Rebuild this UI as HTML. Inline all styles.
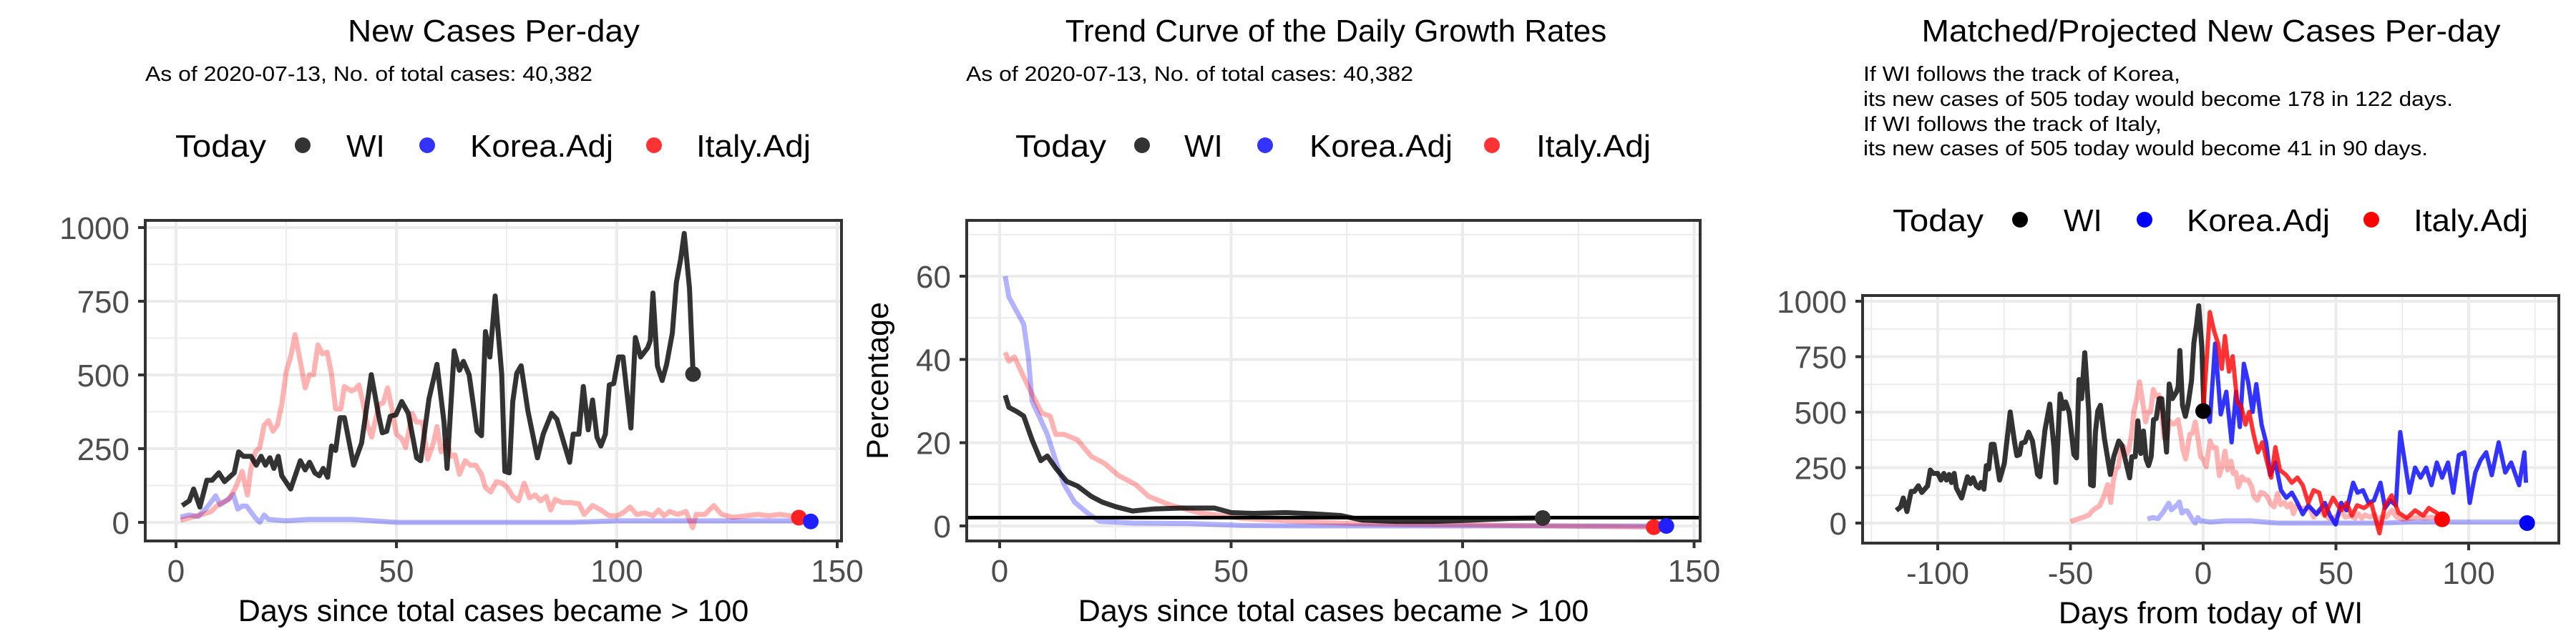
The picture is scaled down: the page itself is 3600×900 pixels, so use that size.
<!DOCTYPE html>
<html><head><meta charset="utf-8"><style>
html,body{margin:0;padding:0;background:#fff;}
svg{display:block;font-family:"Liberation Sans",Arial,sans-serif;}
</style></head><body>
<svg id="fig" width="3600" height="900" viewBox="0 0 3600 900" xmlns="http://www.w3.org/2000/svg">
<rect width="3600" height="900" fill="#fff"/>
<!-- Panel 1 header -->
<text x="690" y="58" font-size="44" text-anchor="middle" textLength="408" lengthAdjust="spacingAndGlyphs">New Cases Per-day</text>
<text x="203" y="113" font-size="29" textLength="625" lengthAdjust="spacingAndGlyphs">As of 2020-07-13, No. of total cases: 40,382</text>
<g font-size="44">
<text x="245" y="219" textLength="127" lengthAdjust="spacingAndGlyphs">Today</text>
<circle cx="423" cy="203" r="11" fill="#333"/><text x="484" y="219">WI</text>
<circle cx="597" cy="203" r="11" fill="#3333ff"/><text x="657" y="219" textLength="200" lengthAdjust="spacingAndGlyphs">Korea.Adj</text>
<circle cx="914" cy="203" r="11" fill="#ff3333"/><text x="973" y="219" textLength="160" lengthAdjust="spacingAndGlyphs">Italy.Adj</text>
</g>
<!-- Panel 2 header -->
<text x="1867" y="58" font-size="44" text-anchor="middle">Trend Curve of the Daily Growth Rates</text>
<text x="1350" y="113" font-size="29" textLength="625" lengthAdjust="spacingAndGlyphs">As of 2020-07-13, No. of total cases: 40,382</text>
<g font-size="44">
<text x="1419" y="219" textLength="127" lengthAdjust="spacingAndGlyphs">Today</text>
<circle cx="1596" cy="203" r="11" fill="#333"/><text x="1655" y="219">WI</text>
<circle cx="1768" cy="203" r="11" fill="#3333ff"/><text x="1830" y="219" textLength="200" lengthAdjust="spacingAndGlyphs">Korea.Adj</text>
<circle cx="2085" cy="203" r="11" fill="#ff3333"/><text x="2147" y="219" textLength="160" lengthAdjust="spacingAndGlyphs">Italy.Adj</text>
</g>
<!-- Panel 3 header -->
<text x="3090" y="58" font-size="44" text-anchor="middle" textLength="809" lengthAdjust="spacingAndGlyphs">Matched/Projected New Cases Per-day</text>
<g font-size="29">
<text x="2604" y="113" textLength="443" lengthAdjust="spacingAndGlyphs">If WI follows the track of Korea,</text>
<text x="2604" y="148" textLength="824" lengthAdjust="spacingAndGlyphs">its new cases of 505 today would become 178 in 122 days.</text>
<text x="2604" y="183" textLength="417" lengthAdjust="spacingAndGlyphs">If WI follows the track of Italy,</text>
<text x="2604" y="217" textLength="789" lengthAdjust="spacingAndGlyphs">its new cases of 505 today would become 41 in 90 days.</text>
</g>
<g font-size="44">
<text x="2645" y="323" textLength="127" lengthAdjust="spacingAndGlyphs">Today</text>
<circle cx="2823" cy="307" r="11" fill="#000"/><text x="2884" y="323">WI</text>
<circle cx="2997" cy="307" r="11" fill="#0000ff"/><text x="3056" y="323" textLength="200" lengthAdjust="spacingAndGlyphs">Korea.Adj</text>
<circle cx="3314" cy="307" r="11" fill="#ff0000"/><text x="3373" y="323" textLength="160" lengthAdjust="spacingAndGlyphs">Italy.Adj</text>
</g>
<g id="plots"></g>
</svg>
<script>
// ---- data ----
const wiDays = [1.4,3,4,5.4,7,8.2,9.7,11,13.2,14.2,15.3,17,18.2,19.3,20.3,21.3,22.2,23.2,24,26,28.2,29.3,30.3,31.5,32.5,33.4,34.4,35.3,36.2,37.2,38.2,40.3,42.1,44.3,46,46.8,47.8,48.6,49.9,51.2,52.7,54.6,55.5,57.4,59.2,60.8,61.5,63.1,64.3,65.2,66.5,68.3,69.3,70.2,71.2,72.4,73.9,74.6,75.6,76.4,77.3,78.3,79.8,82,83.3,85.2,86.4,89.3,90.1,91.4,92.4,93.5,94.5,95.5,96.4,97.4,98.3,99.3,100.4,101.4,103.2,104.2,105.4,107,107.6,108.2,109.2,110.3,111.3,112.6,113.5,114.5,115.3,116.5,117.3];
const wiCases = [57,73,113,52,143,143,168,138,168,239,224,224,194,224,194,219,183,224,158,113,209,178,204,168,158,183,153,259,244,355,355,194,269,501,360,304,309,360,365,410,370,219,209,420,536,340,183,582,516,546,501,309,294,647,561,768,501,173,168,410,506,531,380,219,299,370,350,204,299,299,461,314,415,289,259,299,466,471,561,561,320,627,561,592,617,778,531,481,536,642,813,894,980,793,503];
const itDays = [1,3.5,6,8,9,10,12,13.5,15,16.2,17,18,19,20,21,22,23,24,25,26,27,28,29.3,30.3,31.2,32.2,33.2,34.3,35.3,36.2,37.4,38.2,39.7,40.6,41.5,42.5,43.4,44.4,46,47,48,49,50,51.2,52.1,53.6,54.6,55.9,57.1,58.4,59.2,60.2,61.5,62.3,63.3,64.3,65.6,66.8,68,69.3,70.2,71.4,72.7,74,75.2,76.4,77.7,79,80.2,81.5,82.7,84,85,86,87.7,89.5,91.4,92.6,94.5,96.4,98.3,100,101.4,103,104.5,106.4,108.2,109.5,110.7,112,113.8,115.7,117.2,118,120,122,123.8,126.3,129.4,132,134.4,137,139.4,141.3];
const itCases = [7,17,27,37,52,63,78,118,173,93,183,239,254,330,345,309,330,400,511,561,637,561,456,501,501,602,572,577,501,385,385,461,446,451,466,400,330,289,400,405,456,385,299,284,254,370,340,340,214,269,325,239,279,224,229,163,209,194,194,163,118,103,138,133,118,88,73,133,83,93,73,88,42,78,67,67,63,27,57,42,22,22,32,52,27,32,22,42,22,37,27,37,-18,27,27,57,27,17,22,27,22,27,22,16];
const koDays = [1,3,5,7,9,10,12,13,14,15,16,17,18,19,20,21,25,30,35,40,45,50,60,70,80,90,100,110,120,130,140,144];
const koCases = [18,25,20,50,90,60,80,95,45,55,55,35,15,0,25,10,5,10,10,10,5,0,0,0,0,0,5,5,5,5,5,4];
// growth rates (%)
const wiGrDays = [1.2,2,3.8,5.2,7,8.9,10.3,12.1,14.5,16.8,19.8,22.2,25.1,28.7,33.4,39.3,46.4,50,54.7,61.8,67.8,73.7,78.4,85.5,93.8,102,110.4,117.3];
const wiGr = [31.4,28.5,27.4,26.4,20.7,15.7,16.8,13.9,10.7,9.6,7.1,5.7,4.6,3.6,4.1,4.3,4.3,3.2,3,3.2,2.9,2.5,1.4,1.1,1.1,1.4,1.8,1.9];
const koGrDays = [1.2,2,3.8,5.2,6.2,7,8.5,10.3,12.1,13.9,16.2,19.2,21.6,28.7,40.5,52.4,64.2,100,144];
const koGr = [60,55,51.3,48.5,40.6,30,26.4,22,15.7,10,5.7,2.9,1.1,0.7,0.6,0.1,0,0,0];
const itGrDays = [1.2,2,3.2,5,6.8,9.1,10.9,12.1,13.9,16.8,19.8,22.7,25.7,29.3,32.2,36.9,42.9,52.4,64.2,76,88,111.6,141.3];
const itGr = [41.7,39.6,40.6,36.3,32.1,27.1,26.4,22,22,20.7,16.7,15,12.1,10,7.1,5,3.2,1.8,1.1,0.6,0.4,0.1,-0.3];
const refGrowth = [2];
// panel 3
const wiShift = [-117];
const itShift = [-51];
const koShift = [-22];
const itProjDays = [0,2.5,4.1,5.6,7,8.2,9.7,11.1,12.8,14.4,15.9,17.3,19,20.6,22.3,24.1,25.6,27.2,28.9,31.3,33.4,35.5,37.5,39.6,41.6,43.7,45.8,48.9,52,54,56,58,60.6,63.3,66.4,68.5,71,73.6,76.7,79.8,82.9,85,88,90];
const itProj = [501,951,866,809,695,843,683,752,547,524,444,501,399,319,364,273,205,342,239,216,182,205,171,91,148,137,34,114,57,91,34,80,68,91,-46,80,125,46,23,57,34,68,46,17];
const koProjDays = [0,2.5,4.5,6.6,8.7,10.7,12.4,13.8,15.3,16.9,18.6,20,22,23.7,25.2,27.2,29.3,31.3,33.4,35.5,37.5,39.6,42.7,45.8,47.8,49.9,52,54,56.5,58.1,60.2,62.3,64.3,66.8,68.5,70.5,72.6,74.2,75.7,77.7,79.8,81.9,84,86,88,90,92.2,94.2,96.3,98.4,100.4,102.5,104.5,106.6,108.7,111.3,113.8,116,119,121,121.6];
const koProj = [535,456,809,490,592,364,592,433,718,638,501,626,444,364,216,273,148,114,137,91,40,80,40,91,34,-6,91,57,182,137,148,91,102,182,68,102,80,410,296,137,250,205,250,171,273,205,273,137,307,319,91,228,284,319,216,364,228,273,171,319,182];
const todayDots1 = {wi:[117.3,503], it:[141.3,16], ko:[144,3]};
const p1XTicks = [0,50,100,150], p1YTicks = [0,250,500,750,1000];
const p2XTicks = [0,50,100,150], p2YTicks = [0,20,40,60];
const p3XTicks = [-100,-50,0,50,100], p3YTicks = [0,250,500,750,1000];

// ---- drawing ----
const NS = "http://www.w3.org/2000/svg";
const root = document.getElementById('plots');
function mk(tag, attrs, parent){ const e=document.createElementNS(NS,tag); for(const k in attrs) e.setAttribute(k,attrs[k]); (parent||root).appendChild(e); return e; }

function panel(name, box, xd, yd, xTicks, yTicks, xMinor, yMinor, xTitle, yTitle){
  const g = mk('g',{});
  
  
  const xs = v => box.x0 + (v - xd[0])/(xd[1]-xd[0])*(box.x1-box.x0);
  const ys = v => box.y0 - (v - yd[0])/(yd[1]-yd[0])*(box.y0-box.y1);
  const clipId = name+'-clip';
  const cp = mk('clipPath',{id:clipId}, g); mk('rect',{x:box.l,y:box.t,width:box.r-box.l,height:box.b-box.t},cp);
  xMinor.forEach(v=>{ const l=mk('line',{x1:xs(v),x2:xs(v),y1:box.t,y2:box.b,stroke:'#ebebeb','stroke-width':2},g);   });
  yMinor.forEach(v=>{ const l=mk('line',{y1:ys(v),y2:ys(v),x1:box.l,x2:box.r,stroke:'#ebebeb','stroke-width':2},g);   });
  xTicks.forEach(v=>{ const X=xs(v);
    const l=mk('line',{x1:X,x2:X,y1:box.t,y2:box.b,stroke:'#ebebeb','stroke-width':4},g);  
    mk('line',{x1:X,x2:X,y1:box.b,y2:box.b+10,stroke:'#333','stroke-width':4},g);
    const t=mk('text',{x:X,y:box.b+57,'font-size':44,'text-anchor':'middle',fill:'#4d4d4d'},g); t.textContent=v;
      });
  yTicks.forEach(v=>{ const Y=ys(v);
    const l=mk('line',{y1:Y,y2:Y,x1:box.l,x2:box.r,stroke:'#ebebeb','stroke-width':4},g);  
    mk('line',{y1:Y,y2:Y,x1:box.l-10,x2:box.l,stroke:'#333','stroke-width':4},g);
    const t=mk('text',{x:box.l-22,y:Y+16,'font-size':44,'text-anchor':'end',fill:'#4d4d4d'},g); t.textContent=v;
      });
  const xt=mk('text',{x:(box.l+box.r)/2,y:box.b+112,'font-size':43,'text-anchor':'middle'},g); xt.textContent=xTitle;
   
  if(yTitle){ const cx=box.l-110, cy=(box.t+box.b)/2;
    const yt=mk('text',{x:cx,y:cy,'font-size':43,'text-anchor':'middle',transform:`rotate(-90 ${cx} ${cy})`},g); yt.textContent=yTitle;
      }
  const data = mk('g',{'clip-path':`url(#${clipId})`},g);
  const api = {
    line(xsArr, ysArr, shift, color, width, op, nm){
      const d = xsArr.map((v,i)=>(i?'L':'M')+xs(v+shift).toFixed(1)+','+ys(ysArr[i]).toFixed(1)).join('');
      const p = mk('path',{d, fill:'none', stroke:color,'stroke-width':width,'stroke-opacity':op,'stroke-linejoin':'round'},data);
      
      
    },
    hline(v, nm){ const l=mk('line',{x1:box.l,x2:box.r,y1:ys(v),y2:ys(v),stroke:'#000','stroke-width':5},data);
      
       },
    dot(x,y,color,nm){ const c=mk('circle',{cx:xs(x),cy:ys(y),r:11,fill:color},data);
      
       },
    frame(){ mk('rect',{x:box.l,y:box.t,width:box.r-box.l,height:box.b-box.t,fill:'none',stroke:'#333','stroke-width':4},g); }
  };
  return {api, xs, ys};
}

// Panel 1
let P = panel('panel1-new-cases', {l:203,r:1176,t:308,b:756,x0:246,x1:1170,y0:730,y1:318}, [0,150],[0,1000],
  p1XTicks,p1YTicks,[25,75,125],[125,375,625,875],'Days since total cases became > 100',null).api;
P.line(koDays,koCases,0,'#0000ff',7,0.3,'korea-adj-line');
P.line(itDays,itCases,0,'#ff0000',7,0.3,'italy-adj-line');
P.line(wiDays,wiCases,0,'#000',7,0.8,'wi-line');
P.dot(todayDots1.wi[0],todayDots1.wi[1],'#333','wi-today-dot');
P.dot(todayDots1.it[0],todayDots1.it[1],'#ff2020','italy-today-dot');
P.dot(todayDots1.ko[0],todayDots1.ko[1],'#2020ff','korea-today-dot');
P.frame();

// Panel 2
P = panel('panel2-growth-rates', {l:1351,r:2376,t:308,b:756,x0:1397,x1:2044,y0:735,y1:386}, [0,100],[0,60],
  p2XTicks,p2YTicks,[25,75,125],[10,30,50,70],'Days since total cases became > 100','Percentage').api;
P.line(koGrDays,koGr,0,'#0000ff',7,0.3,'korea-growth-line');
P.line(itGrDays,itGr,0,'#ff0000',7,0.3,'italy-growth-line');
P.line(wiGrDays,wiGr,0,'#000',7,0.8,'wi-growth-line');
P.hline(refGrowth[0],'reference-growth-line');
P.dot(wiGrDays[wiGrDays.length-1],wiGr[wiGr.length-1],'#333','wi-today-dot');
P.dot(itGrDays[itGrDays.length-1],itGr[itGr.length-1],'#ff2020','italy-today-dot');
P.dot(koGrDays[koGrDays.length-1],koGr[koGr.length-1],'#2020ff','korea-today-dot');
P.frame();

// Panel 3
P = panel('panel3-projection', {l:2603,r:3576,t:413,b:759,x0:3079,x1:3450,y0:731,y1:421}, [0,100],[0,1000],
  p3XTicks,p3YTicks,[-125,-75,-25,25,75,125],[125,375,625,875],'Days from today of WI',null).api;
P.line(koDays,koCases,koShift[0],'#0000ff',7,0.3,'korea-matched-line');
P.line(itDays,itCases,itShift[0],'#ff0000',7,0.3,'italy-matched-line');
P.line(wiDays,wiCases,wiShift[0],'#000',7,0.8,'wi-line');
P.line(koProjDays,koProj,0,'#0000ff',6,0.8,'korea-projected-line');
P.line(itProjDays,itProj,0,'#ff0000',6,0.8,'italy-projected-line');
P.dot(0,505,'#000','wi-today-dot');
P.dot(itProjDays[itProjDays.length-1],itProj[itProj.length-1],'#ff0000','italy-end-dot');
P.dot(koProjDays[koProjDays.length-1]+0.4,0,'#0000ff','korea-end-dot');
P.frame();
</script>
</body></html>
